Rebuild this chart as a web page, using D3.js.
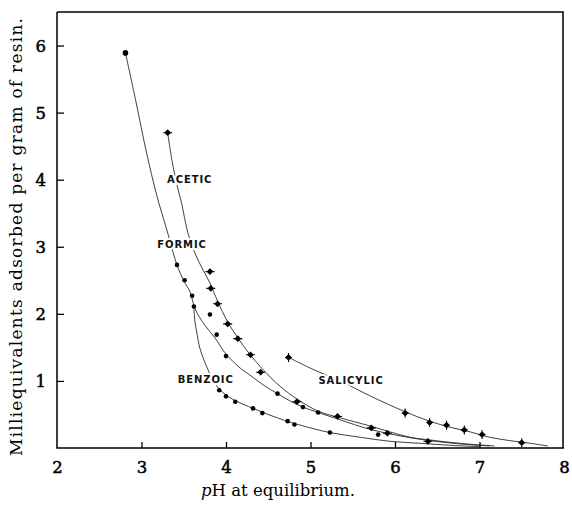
<!DOCTYPE html>
<html><head><meta charset="utf-8">
<script src="https://cdn.jsdelivr.net/npm/d3@7"></script>
<style>body{margin:0;background:#fff}svg{display:block}</style>
</head><body>
<svg id="chart" width="572" height="505"></svg>
<script>
// ---- data (pH, meq/g) ----
const xTicks = [2, 3, 4, 5, 6, 7, 8];
const yTicks = [1, 2, 3, 4, 5, 6];

const formicPoints = [[2.81,5.89],[3.42,2.73],[3.51,2.50],[3.60,2.27],[3.62,2.11],[3.81,1.99],[3.89,1.69],[4.00,1.37],[4.61,0.81],[4.91,0.61],[5.09,0.53],[5.80,0.20]];
const aceticPoints = [[3.31,4.70],[3.81,2.63],[3.82,2.38],[3.90,2.15],[4.02,1.85],[4.14,1.63],[4.29,1.39],[4.41,1.13],[4.84,0.69],[5.32,0.47],[5.72,0.30],[5.91,0.22],[6.39,0.10]];
const benzoicPoints = [[3.92,0.86],[4.00,0.77],[4.11,0.69],[4.32,0.59],[4.43,0.52],[4.73,0.40],[4.81,0.35],[5.23,0.23]];
const salicylicPoints = [[4.74,1.35],[6.12,0.52],[6.41,0.38],[6.61,0.34],[6.82,0.27],[7.03,0.20],[7.50,0.08]];

// smoothed curves as drawn in the figure
const formicCurve = [[2.81,5.89],[2.93,5.19],[3.06,4.40],[3.18,3.77],[3.30,3.25],[3.42,2.73],[3.51,2.47],[3.57,2.34],[3.64,2.06],[3.75,1.83],[3.87,1.64],[4.00,1.40],[4.17,1.19],[4.28,1.09],[4.44,0.94],[4.61,0.81],[4.76,0.70],[4.91,0.61],[5.09,0.53],[5.35,0.42],[5.70,0.28],[6.06,0.18],[6.41,0.11],[6.77,0.06],[7.12,0.03]];
const aceticCurve = [[3.31,4.70],[3.36,4.29],[3.42,3.92],[3.48,3.62],[3.54,3.25],[3.63,2.91],[3.73,2.65],[3.81,2.46],[3.90,2.19],[4.02,1.88],[4.14,1.64],[4.28,1.40],[4.43,1.18],[4.64,0.92],[4.84,0.73],[5.09,0.55],[5.35,0.45],[5.70,0.33],[5.94,0.24],[6.18,0.16],[6.41,0.12],[6.77,0.07],[7.18,0.03]];
const benzoicCurve = [[3.62,2.11],[3.63,1.91],[3.66,1.68],[3.69,1.49],[3.74,1.31],[3.79,1.16],[3.86,0.98],[3.92,0.88],[4.01,0.78],[4.12,0.70],[4.32,0.59],[4.52,0.49],[4.72,0.40],[4.88,0.34],[5.23,0.23],[5.59,0.16],[5.94,0.10],[6.30,0.07],[6.65,0.04],[7.01,0.02]];
const salicylicCurve = [[4.74,1.35],[5.05,1.16],[5.35,1.00],[5.70,0.78],[6.12,0.54],[6.41,0.40],[6.65,0.31],[6.89,0.24],[7.12,0.16],[7.36,0.11],[7.60,0.07],[7.81,0.03]];

const curveLabels = [
  {text:"ACETIC", at:[3.57,4.01]},
  {text:"FORMIC", at:[3.48,3.03]},
  {text:"BENZOIC", at:[3.76,1.03]},
  {text:"SALICYLIC", at:[5.48,1.01]}
];

const xTitle = "H at equilibrium.";
const yTitle = "Milliequivalents adsorbed per gram of resin.";

// ---- drawing ----
const svg = d3.select("#chart");
const mLeft = 57, mRight = 564, mTop = 12, mBottom = 448;
const x = d3.scaleLinear().domain([2, 8]).range([mLeft, mRight]);
const y = d3.scaleLinear().domain([0, 6.5]).range([mBottom, mTop]);

const serif = "'DejaVu Serif', 'Liberation Serif', serif";

// curves
const line = d3.line().x(d => x(d[0])).y(d => y(d[1])).curve(d3.curveCatmullRom.alpha(0.5));
const g = svg.append("g");
[formicCurve, aceticCurve, benzoicCurve, salicylicCurve].forEach(c => {
  g.append("path").attr("d", line(c)).attr("fill", "none")
   .attr("stroke", "#2a2a2a").attr("stroke-width", 0.9);
});

// labels with white halo so curves break around them
svg.append("g").selectAll("text").data(curveLabels).join("text")
  .attr("x", d => x(d.at[0])).attr("y", d => y(d.at[1]))
  .attr("text-anchor", "middle").attr("dy", "0.36em")
  .attr("font-family", "'DejaVu Sans', Arial, sans-serif")
  .attr("font-weight", "bold").attr("font-size", 10)
  .attr("letter-spacing", 0.9)
  .attr("fill", "#111").attr("stroke", "#fff").attr("stroke-width", 4)
  .attr("paint-order", "stroke")
  .text(d => d.text);

// markers
const dots = formicPoints.concat(benzoicPoints);
svg.append("g").selectAll("circle").data(dots).join("circle")
  .attr("cx", d => x(d[0])).attr("cy", d => y(d[1]))
  .attr("r", (d, i) => i === 0 ? 2.8 : 2.3).attr("fill", "#000");

function crossPath(cx, cy, h, v) {
  const s = 2.6;
  return `M${cx - s},${cy}L${cx},${cy - s}L${cx + s},${cy}L${cx},${cy + s}Z` +
         `M${cx - h},${cy}L${cx + h},${cy}M${cx},${cy - v}L${cx},${cy + v}`;
}
svg.append("g").selectAll("path").data(aceticPoints).join("path")
  .attr("d", d => crossPath(x(d[0]), y(d[1]), 4.5, 3))
  .attr("fill", "#000").attr("stroke", "#000").attr("stroke-width", 1.1);
svg.append("g").selectAll("path").data(salicylicPoints).join("path")
  .attr("d", d => crossPath(x(d[0]), y(d[1]), 3.5, 4.5))
  .attr("fill", "#000").attr("stroke", "#000").attr("stroke-width", 1.1);

// axes
const xAxis = svg.append("g").attr("transform", `translate(0,${mBottom})`)
  .call(d3.axisBottom(x).tickValues(xTicks).tickSize(-6).tickSizeOuter(0).tickFormat(d3.format("d")));
const yAxis = svg.append("g").attr("transform", `translate(${mLeft},0)`)
  .call(d3.axisLeft(y).tickValues(yTicks).tickSize(-7).tickSizeOuter(0).tickFormat(d3.format("d")));
[xAxis, yAxis].forEach(a => {
  a.select(".domain").remove();
  a.selectAll(".tick line").attr("stroke", "#000").attr("stroke-width", 1.3);
  a.selectAll("text").attr("font-family", serif).attr("font-size", 16.5)
    .attr("fill", "#000").attr("stroke", "#000").attr("stroke-width", 0.5);
});
xAxis.selectAll(".tick").filter(d => d === 2 || d === 8).select("line").remove();
xAxis.selectAll("text").attr("y", 13).attr("dy", "0.71em");
yAxis.selectAll("text").attr("x", -11).attr("dy", "0.36em");

// frame
svg.append("path")
  .attr("d", `M${mLeft},${mTop}L${mLeft},${mBottom}L${mRight},${mBottom}M${mLeft},${mTop}L${mRight - 1},${mTop}L${mRight - 1},${mBottom}`)
  .attr("fill", "none").attr("stroke", "#000").attr("stroke-width", 1.5);

// titles
const xt = svg.append("text").attr("x", 278).attr("y", 496)
  .attr("text-anchor", "middle").attr("font-family", serif).attr("font-size", 16.5).attr("fill", "#000");
xt.append("tspan").attr("font-style", "italic").text("p");
xt.append("tspan").text(xTitle);

svg.append("text").attr("transform", "translate(22,237) rotate(-90)")
  .attr("text-anchor", "middle").attr("font-family", serif).attr("font-size", 17)
  .attr("fill", "#000").attr("textLength", 438).attr("lengthAdjust", "spacing")
  .text(yTitle);
</script>
</body></html>
